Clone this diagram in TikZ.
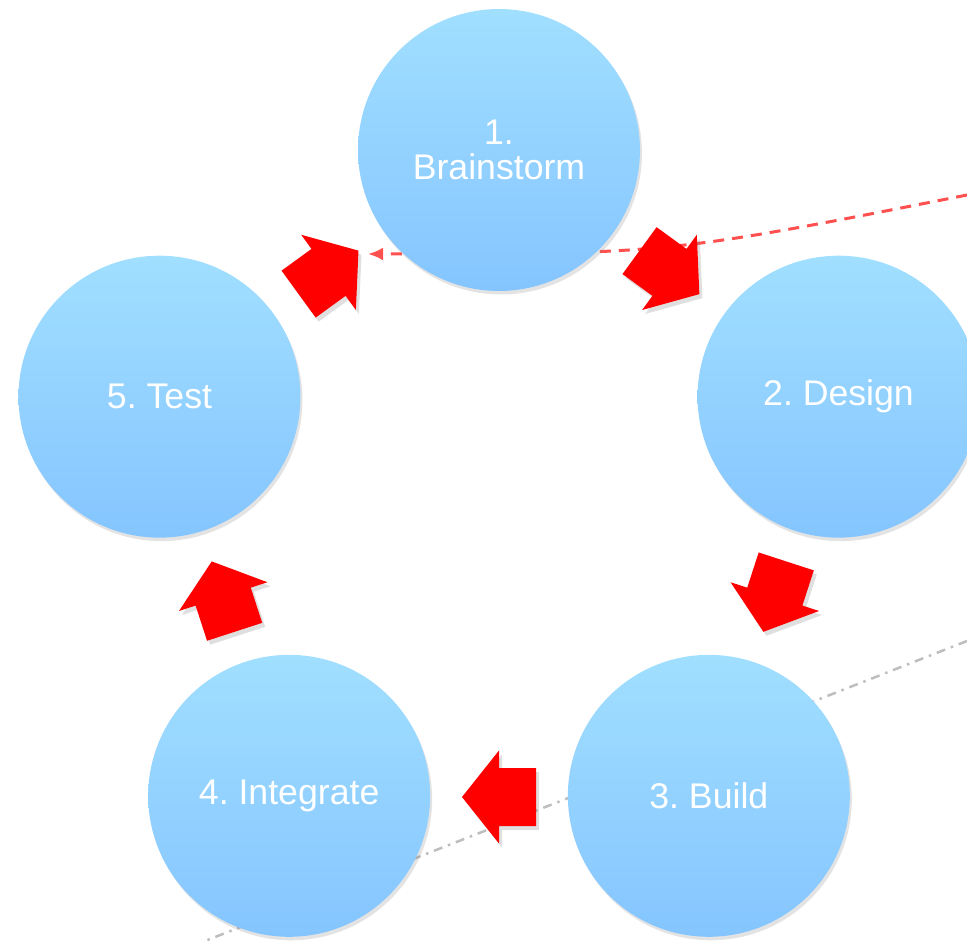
\documentclass[tikz,border=0pt]{standalone}
\usepackage{fontspec}
\setmainfont{Liberation Sans}
\usetikzlibrary{calc}
\usetikzlibrary{positioning}
\usetikzlibrary{shadows}
\usetikzlibrary{arrows.meta}
\frenchspacing

\definecolor{stageTop}{RGB}{161,223,255}
\definecolor{stageBot}{RGB}{133,197,255}
\definecolor{flowRed}{RGB}{255,0,0}
\definecolor{linkRed}{RGB}{255,80,80}
\definecolor{guideGray}{RGB}{190,190,190}

\begin{document}
\begin{tikzpicture}[x=0.02cm, y=0.02cm,
    stage/.style={circle, minimum size=5.64cm, inner sep=0pt, draw=none,
        top color=stageTop, bottom color=stageBot, text=white, align=center,
        font=\fontsize{20.3}{20.3}\selectfont,
        drop shadow={shadow xshift=0.04cm, shadow yshift=-0.07cm, opacity=0.22}},
    flow/.style={fill=flowRed, draw=none,
        drop shadow={shadow xshift=0.06cm, shadow yshift=-0.08cm, opacity=0.25}}]
            \useasboundingbox (0, 0) rectangle (967, 941);
            \clip (0, 0) rectangle (967, 941);
            \coordinate (C) at (499, 434);

            % lines behind the cycle
            \coordinate (linkStart) at (967, 746);
            \coordinate (linkEnd) at (368, 687);
            \draw[linkRed, line width=0.06cm, dash pattern=on 0.22cm off 0.16cm,
                -{Latex[length=0.3cm, width=0.26cm]}]
                (linkStart) .. controls (668, 687) .. (linkEnd);
            \coordinate (guideStart) at (967, 300);
            \coordinate (guideEnd) at (205, 0);
            \draw[guideGray, line width=0.05cm,
                dash pattern=on 0.18cm off 0.12cm on 0.05cm off 0.12cm]
                (guideStart) -- (guideEnd);

            % stages
            \def\S{1.\\Brainstorm, 2. Design, 3. Build, 4. Integrate, 5. Test}
            \foreach \s[count=\i from 1] in \S
            {
                \pgfmathsetmacro{\a}{90 - 72*(\i - 1)}
                \node[stage] (stage\i) at ($(C) + (\a:357)$) {\s};
            }

            % block arrows between stages
            \foreach \i in {1, ..., 5}
            {
                \pgfmathsetmacro{\p}{54 - 72*(\i - 1)}
                \begin{scope}[shift={($(C) + (\p:290)$)}, rotate=\p - 90]
                    \fill[flow] (-37, -29) -- (0, -29) -- (0, -46.5) -- (37, 0)
                        -- (0, 46.5) -- (0, 29) -- (-37, 29) -- cycle;
                \end{scope}
            }
        \end{tikzpicture}
\end{document}
